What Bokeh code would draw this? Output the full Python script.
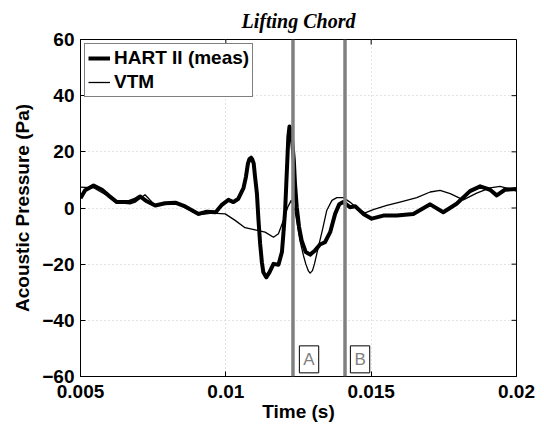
import math
from bokeh.plotting import figure
from bokeh.models import Span, Label, Legend, LegendItem, FixedTicker, Range1d
from bokeh.embed import file_html
from bokeh.resources import INLINE

# ---------------- data ----------------
time_hart = [0.00500, 0.00516, 0.00545, 0.00574, 0.00596, 0.00625, 0.00665, 0.00688,
             0.00705, 0.00728, 0.00757, 0.00791, 0.00826, 0.00860, 0.00906, 0.00935,
             0.00965, 0.00985, 0.01009, 0.01026, 0.01043, 0.01061, 0.01069, 0.01076,
             0.01081, 0.01087, 0.01091, 0.01096, 0.01100, 0.01107, 0.01112, 0.01118,
             0.01124, 0.01129, 0.01139, 0.01150, 0.01164, 0.01181, 0.01193, 0.01198,
             0.01204, 0.01208, 0.01212, 0.01215, 0.01219, 0.01225, 0.01229, 0.01234,
             0.01238, 0.01244, 0.01252, 0.01261, 0.01275, 0.01290, 0.01307, 0.01324,
             0.01341, 0.01359, 0.01376, 0.01390, 0.01404, 0.01427, 0.01445, 0.01473,
             0.01502, 0.01542, 0.01588, 0.01645, 0.01703, 0.01748, 0.01794, 0.01840,
             0.01875, 0.01909, 0.01932, 0.01960, 0.02000]
p_hart = [3.5, 6.3, 8.0, 6.5, 4.5, 2.1, 2.1, 3.0,
          4.1, 2.4, 0.9, 1.7, 1.9, 0.55, -2.1, -1.3,
          -1.5, 1.0, 2.9, 2.1, 3.3, 7.2, 11.0, 15.8,
          17.4, 17.9, 17.3, 15.8, 11.6, 5.1, -3.8, -12.7,
          -19.3, -22.9, -24.7, -22.9, -19.9, -20.2, -15.7, -9.2,
          -0.9, 8.6, 18.1, 25.3, 29.0, 27.7, 22.9, 17.0,
          8.6, 0.3, -6.8, -11.6, -15.7, -16.6, -15.1, -13.0,
          -12.2, -8.6, -2.1, 1.3, 2.1, 0.3, 0.6, -2.1,
          -3.8, -2.7, -2.7, -2.1, 1.3, -1.5, 1.5, 6.0,
          7.7, 6.5, 4.5, 6.5, 6.8]

time_vtm = [0.00500, 0.00545, 0.00585, 0.00625, 0.00671, 0.00688, 0.00722, 0.00757,
            0.00826, 0.00906, 0.00952, 0.00998, 0.01032, 0.01066, 0.01101, 0.01135,
            0.01164, 0.01181, 0.01198, 0.01213, 0.01225, 0.01238, 0.01255, 0.01267,
            0.01275, 0.01284, 0.01290, 0.01298, 0.01305, 0.01318, 0.01332, 0.01347,
            0.01365, 0.01382, 0.01404, 0.01427, 0.01450, 0.01479, 0.01507, 0.01554,
            0.01599, 0.01657, 0.01703, 0.01737, 0.01772, 0.01817, 0.01863, 0.01909,
            0.01943, 0.01970, 0.02000]
p_vtm = [7.4, 7.2, 4.8, 1.9, 1.5, 2.1, 4.7, 0.9,
         1.9, -2.4, -1.8, -2.1, -4.4, -7.0, -7.8, -8.6,
         -10.4, -9.2, -4.4, 0.3, 2.7, -0.9, -11.6, -16.9,
         -19.9, -22.4, -23.2, -22.3, -19.9, -14.0, -8.0, -0.9,
         2.7, 3.7, 3.7, 2.1, 0.1, -1.7, -0.6, 0.9,
         2.1, 3.7, 5.7, 6.3, 5.1, 2.9, 5.3, 7.2,
         7.7, 7.0, 6.0]

marker_times = [0.01231, 0.01410]
marker_labels = ["A", "B"]
marker_label_t = [0.01253, 0.014285]
marker_label_p = [-58.7, -58.7]

x_ticks = [0.005, 0.01, 0.015, 0.02]
x_tick_labels = ["0.005", "0.01", "0.015", "0.02"]
y_ticks = [-60, -40, -20, 0, 20, 40, 60]
y_tick_labels = ["\u221260", "\u221240", "\u221220", "0", "20", "40", "60"]

FONT = "Liberation Sans"

p = figure(width=544, height=426, output_backend="svg", toolbar_location=None,
           x_range=Range1d(0.005, 0.02), y_range=Range1d(-60, 60),
           min_border_left=80, min_border_right=28, min_border_top=39, min_border_bottom=50,
           background_fill_color="white", border_fill_color="white")

p.outline_line_color = "black"
p.outline_line_width = 1

p.title.text = "Lifting Chord"
p.title.text_font = "Liberation Serif"
p.title.text_font_style = "bold italic"
p.title.text_font_size = "20px"
p.title.text_color = "black"
p.title.align = "center"
p.title.standoff = 15

def style_axis(ax, ticks, labels):
    ax.ticker = FixedTicker(ticks=ticks)
    ax.major_label_overrides = {t: l for t, l in zip(ticks, labels)}
    ax.major_tick_in = 5
    ax.major_tick_out = 0
    ax.minor_tick_line_color = None
    ax.axis_line_color = "black"
    ax.major_tick_line_color = "black"
    ax.major_label_text_font = FONT
    ax.major_label_text_font_style = "bold"
    ax.major_label_text_color = "black"
    ax.major_label_text_font_size = "19px"
    ax.axis_label_text_font = FONT
    ax.axis_label_text_font_style = "bold"
    ax.axis_label_text_font_size = "19px"
    ax.axis_label_text_color = "black"

xa = p.xaxis[0]
style_axis(xa, x_ticks, x_tick_labels)
xa.axis_label = "Time (s)"
xa.major_label_standoff = 8
xa.axis_label_standoff = 0

ya = p.yaxis[0]
style_axis(ya, y_ticks, y_tick_labels)
ya.axis_label = "Acoustic Pressure (Pa)"
ya.major_label_standoff = 6
ya.axis_label_standoff = 6

p.xgrid.ticker = FixedTicker(ticks=x_ticks)
p.ygrid.ticker = FixedTicker(ticks=y_ticks)
for g in (p.xgrid[0], p.ygrid[0]):
    g.grid_line_color = "#c8c8c8"
    g.grid_line_dash = "1 3"
    g.grid_line_width = 1

# inner tick marks on the top and right edges of the box
p.ray(x=x_ticks, y=[p.y_range.end] * len(x_ticks), length=5, length_units="screen",
      angle=-math.pi / 2, line_color="black", line_width=1)
p.ray(x=[p.x_range.end] * len(y_ticks), y=y_ticks, length=5, length_units="screen",
      angle=math.pi, line_color="black", line_width=1)

r_hart = p.line(time_hart, p_hart, line_color="black", line_width=4, line_join="round")
r_vtm = p.line(time_vtm, p_vtm, line_color="black", line_width=1.3, line_join="round")

for t in marker_times:
    p.add_layout(Span(location=t, dimension="height", line_color="#808080", line_width=3.5))

for t, pv, lab in zip(marker_label_t, marker_label_p, marker_labels):
    p.add_layout(Label(x=t, y=pv, text=lab, text_font=FONT, text_font_size="17px",
                       text_color="#808080", text_align="left", text_baseline="bottom",
                       border_line_color="black", border_line_width=1,
                       background_fill_color="white", padding=4))

legend = Legend(items=[LegendItem(label="HART II (meas)", renderers=[r_hart]),
                       LegendItem(label="VTM", renderers=[r_vtm])],
                location="top_left")
legend.margin = 4
legend.padding = 3
legend.spacing = 2
legend.glyph_width = 22
legend.glyph_height = 18
legend.label_height = 18
legend.label_standoff = 4
legend.label_text_font = FONT
legend.label_text_font_style = "bold"
legend.label_text_font_size = "19px"
legend.label_text_color = "black"
legend.border_line_color = "black"
legend.border_line_width = 1
legend.background_fill_color = "white"
legend.background_fill_alpha = 1
p.add_layout(legend)

open("out.html", "w").write(file_html(p, INLINE))
